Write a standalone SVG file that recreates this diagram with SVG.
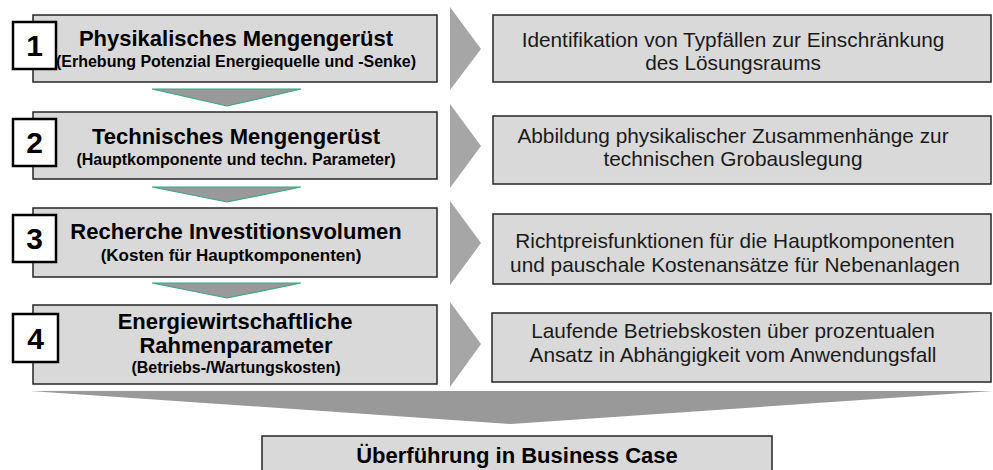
<svg xmlns="http://www.w3.org/2000/svg" width="993" height="470" viewBox="0 0 993 470">
<style>
.box{fill:#d9d9d9;stroke:#262626;stroke-width:1.5}
.num{fill:#ffffff;stroke:#000000;stroke-width:2.5}
.chev{fill:#a6a6a6}
.down{fill:#999999;stroke:#3aa58a;stroke-width:1.2}
.big{fill:#999999}
text{font-family:"Liberation Sans",Arial,sans-serif;fill:#000000;text-anchor:middle}
.t{font-size:22px;font-weight:bold}
.s{font-size:16px;font-weight:bold}
.n{font-size:30px;font-weight:bold}
.r{font-size:20.8px;fill:#1a1a1a}
</style>
<rect width="993" height="470" fill="#ffffff"/>
<g id="connectors">
<polygon class="chev" points="450,7 481,49 450,90"/>
<polygon class="chev" points="450,104 481,146 450,188"/>
<polygon class="chev" points="450,201 481,243 450,285"/>
<polygon class="chev" points="450,302 481,344 450,387"/>
<polygon class="down" points="152,89 301,89 227,106"/>
<polygon class="down" points="152,187 301,187 227,202"/>
<polygon class="down" points="152,283 301,283 227,298"/>
<polygon class="big" points="30,391 993,391 511,424"/>
</g>
<g id="step1">
<rect class="box" x="33" y="15" width="404" height="67"/>
<rect class="num" x="13" y="22" width="43" height="47"/>
<text class="n" x="34.5" y="56">1</text>
<text class="t" x="236" y="46">Physikalisches Mengengerüst</text>
<text class="s" x="236" y="67">(Erhebung Potenzial Energiequelle und -Senke)</text>
</g>
<g id="step2">
<rect class="box" x="33" y="112" width="404" height="67"/>
<rect class="num" x="13" y="119" width="43" height="47"/>
<text class="n" x="34.5" y="153">2</text>
<text class="t" x="236" y="144">Technisches Mengengerüst</text>
<text class="s" x="236" y="165">(Hauptkomponente und techn. Parameter)</text>
</g>
<g id="step3">
<rect class="box" x="33" y="208" width="404" height="69"/>
<rect class="num" x="13" y="215" width="43" height="47"/>
<text class="n" x="34.5" y="249">3</text>
<text class="t" x="236" y="239">Recherche Investitionsvolumen</text>
<text class="s" x="231" y="261" style="font-size:17px">(Kosten für Hauptkomponenten)</text>
</g>
<g id="step4">
<rect class="box" x="33" y="305" width="404" height="79"/>
<rect class="num" x="13" y="314" width="45" height="48"/>
<text class="n" x="35.5" y="349">4</text>
<text class="t" x="235" y="329">Energiewirtschaftliche</text>
<text class="t" x="236" y="353">Rahmenparameter</text>
<text class="s" x="236" y="373">(Betriebs-/Wartungskosten)</text>
</g>
<g id="desc1">
<rect class="box" x="493" y="15" width="498" height="67"/>
<text class="r" x="733" y="47">Identifikation von Typfällen zur Einschränkung</text>
<text class="r" x="733" y="70">des Lösungsraums</text>
</g>
<g id="desc2">
<rect class="box" x="493" y="116" width="498" height="68"/>
<text class="r" x="733" y="143">Abbildung physikalischer Zusammenhänge zur</text>
<text class="r" x="733" y="166">technischen Grobauslegung</text>
</g>
<g id="desc3">
<rect class="box" x="493" y="214" width="498" height="70"/>
<text class="r" x="735" y="248">Richtpreisfunktionen für die Hauptkomponenten</text>
<text class="r" x="735" y="272">und pauschale Kostenansätze für Nebenanlagen</text>
</g>
<g id="desc4">
<rect class="box" x="492" y="313" width="499" height="69"/>
<text class="r" x="733" y="338">Laufende Betriebskosten über prozentualen</text>
<text class="r" x="733" y="362">Ansatz in Abhängigkeit vom Anwendungsfall</text>
</g>
<g id="result">
<rect class="box" x="262" y="436" width="510" height="50"/>
<text class="t" x="517" y="463">Überführung in Business Case</text>
</g>
</svg>
